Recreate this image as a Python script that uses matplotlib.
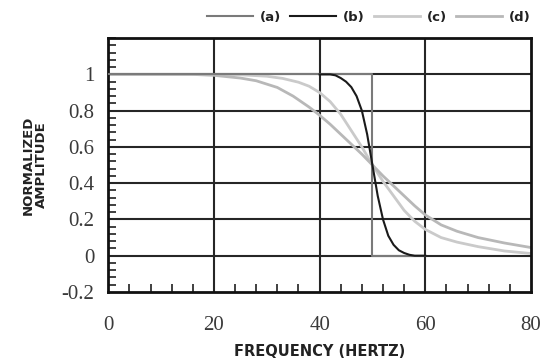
import matplotlib
matplotlib.use("Agg")
import matplotlib.pyplot as plt
from matplotlib.ticker import MultipleLocator

# curve (a): ideal brick-wall filter
freq_a = [0, 50, 50, 60]
amp_a = [1.0, 1.0, 0.0, 0.0]

# curve (b): steep transition between 40 and 60 Hz
freq_b = [40, 42, 43, 44, 45, 46, 47, 48, 49, 50, 51, 52, 53, 54, 55, 56, 57, 58, 60]
amp_b = [1.0, 1.0, 0.995, 0.98, 0.96, 0.93, 0.88, 0.8, 0.67, 0.5, 0.33, 0.2,
         0.11, 0.06, 0.03, 0.015, 0.005, 0.0, 0.0]

# curve (c): moderate rolloff
freq_c = [0, 20, 25, 30, 33, 36, 38, 40, 42, 44, 46, 48, 50, 52, 54, 56, 58, 60,
          63, 66, 70, 75, 80]
amp_c = [1.0, 1.0, 0.998, 0.99, 0.978, 0.957, 0.935, 0.9, 0.85, 0.78, 0.69, 0.6,
         0.5, 0.41, 0.33, 0.25, 0.19, 0.145, 0.1, 0.075, 0.05, 0.026, 0.012]

# curve (d): gentle rolloff
freq_d = [0, 10, 16, 20, 25, 28, 32, 35, 38, 40, 42, 44, 46, 48, 50, 52, 54, 56,
          58, 60, 63, 66, 70, 75, 80]
amp_d = [1.0, 1.0, 1.0, 0.995, 0.98, 0.965, 0.928, 0.88, 0.82, 0.775, 0.725,
         0.67, 0.615, 0.56, 0.5, 0.44, 0.385, 0.33, 0.275, 0.225, 0.17, 0.135,
         0.1, 0.07, 0.045]

labels = ["(a)", "(b)", "(c)", "(d)"]
colors = ["#7a7a7a", "#1a1a1a", "#cacaca", "#b8b8b8"]

fig = plt.figure(figsize=(5.44, 3.6), dpi=100)
ax = fig.add_axes([0.199, 0.189, 0.777, 0.705])

for x in [20, 40, 60]:
    ax.axvline(x, color="#262626", lw=1.5, zorder=1)
for y in [0, 0.2, 0.4, 0.6, 0.8, 1.0]:
    ax.axhline(y, color="#262626", lw=1.5, zorder=1)

ax.plot(freq_a, amp_a, color=colors[0], lw=1.5, label=labels[0], zorder=3)
ax.plot(freq_b, amp_b, color=colors[1], lw=1.5, label=labels[1], zorder=4)
ax.plot(freq_c, amp_c, color=colors[2], lw=2, label=labels[2], zorder=2)
ax.plot(freq_d, amp_d, color=colors[3], lw=2, label=labels[3], zorder=2)

ax.set_xlim(0, 80)
ax.set_ylim(-0.2, 1.2)
ax.set_xticks([0, 20, 40, 60, 80])
ax.set_yticks([-0.2, 0, 0.2, 0.4, 0.6, 0.8, 1.0])
ax.set_yticklabels(["-0.2", "0", "0.2", "0.4", "0.6", "0.8", "1"])
ax.xaxis.set_minor_locator(MultipleLocator(4))
ax.yaxis.set_minor_locator(MultipleLocator(0.04))

ax.tick_params(which="major", length=0, labelsize=15)
ax.tick_params(axis="x", which="major", pad=17)
ax.tick_params(axis="y", which="major", pad=10)
ax.tick_params(which="minor", direction="in", length=6, width=1.2, color="#202020")
for lab in ax.get_xticklabels() + ax.get_yticklabels():
    lab.set_family("Liberation Serif")
    lab.set_color("#3a3a3a")

for s in ax.spines.values():
    s.set_linewidth(2)
    s.set_color("#111111")

ax.set_xlabel("FREQUENCY (HERTZ)", family="DejaVu Sans", weight="bold",
              fontsize=10.5, color="#222222", labelpad=7)
ax.set_ylabel("NORMALIZED\nAMPLITUDE", family="DejaVu Sans", weight="bold",
              fontsize=9.5, color="#222222", labelpad=10, linespacing=0.95)

leg = fig.legend(loc="center", bbox_to_anchor=(0.678, 0.952), ncol=4, frameon=False,
                 handlelength=3.5, handletextpad=0.5, columnspacing=0.7,
                 prop={"family": "DejaVu Sans", "weight": "bold", "size": 9.5})
for t in leg.get_texts():
    t.set_color("#222222")

fig.savefig("out.png", dpi=100)
